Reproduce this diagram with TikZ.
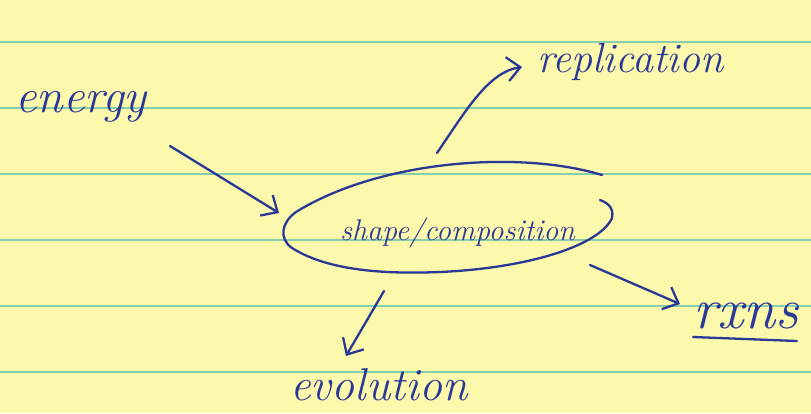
\documentclass[tikz,border=0pt]{standalone}
\usetikzlibrary{arrows.meta}
\definecolor{paper}{RGB}{252,248,172}
\definecolor{rule}{RGB}{138,204,172}
\definecolor{ink}{RGB}{42,56,150}
\tikzset{
  hand/.style={text=ink, inner sep=0pt},
  inkline/.style={draw=ink, line width=2.3pt, line cap=round, line join=round},
  handarrow/.style={inkline, -{Straight Barb[length=13pt,width=24pt,line width=2.3pt]}},
  ruling/.style={draw=rule, line width=1.2pt}
}
\begin{document}
\begin{tikzpicture}[x=1pt,y=-1pt]
\useasboundingbox (0,0) rectangle (811,413);
\fill[paper] (0,0) rectangle (811,413);
\foreach \yy in {42,108,174,240,306,372} \draw[ruling] (0,\yy) -- (811,\yy);

% texts
\node[hand, anchor=base west, font=\fontsize{48}{48}\selectfont\itshape] (energy) at (15,112) {energy};
\node[hand, anchor=base west, font=\fontsize{42}{42}\selectfont\itshape] (repl) at (537,72) {replication};
\node[hand, anchor=base west, font=\fontsize{30}{30}\selectfont\itshape] (shape) at (340,240) {shape/composition};
\node[hand, anchor=base west, font=\fontsize{58}{58}\selectfont\itshape] (rxns) at (693,328) {rxns};
\node[hand, anchor=base west, font=\fontsize{46}{46}\selectfont\itshape] (evol) at (290,400) {evolution};
\coordinate (ul1) at (693,337);
\coordinate (ul2) at (797,341);
\draw[inkline] (ul1) -- (ul2);

% loop around shape/composition
\draw[inkline] (602,175) .. controls (520,150) and (380,160) .. (296,212)
  .. controls (282,222) and (278,238) .. (292,248)
  .. controls (330,272) and (390,274) .. (440,272)
  .. controls (530,268) and (600,245) .. (612,218)
  .. controls (614,208) and (608,203) .. (600,200);

% connector end points
\coordinate (eS) at (170,146);
\coordinate (eE) at (279,213);
\coordinate (rS) at (437,153);
\coordinate (rE) at (522,67);
\coordinate (xS) at (590,265);
\coordinate (xE) at (680,304);
\coordinate (vS) at (384,291);
\coordinate (vE) at (346,356);

\draw[handarrow] (eS) -- (eE);
\draw[handarrow] (rS) .. controls (465,112) and (488,72) .. (rE);
\draw[handarrow] (xS) -- (xE);
\draw[handarrow] (vS) -- (vE);
\end{tikzpicture}
\end{document}
